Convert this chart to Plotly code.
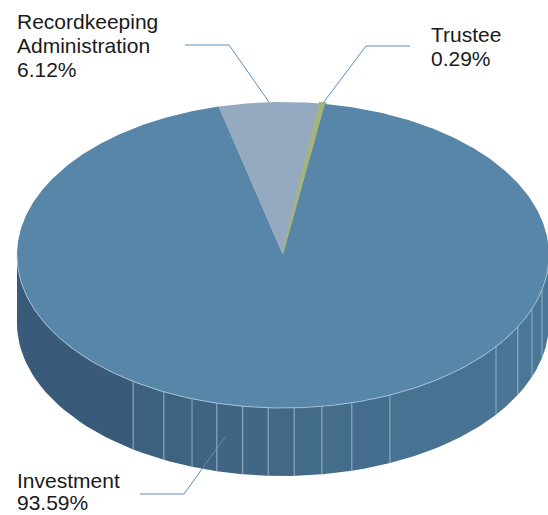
import numpy as np
import plotly.graph_objects as go

# ---- data ----
label_lines = [["Recordkeeping", "Administration"], ["Trustee"], ["Investment"]]
values = [6.12, 0.29, 93.59]
colors = ["#95aac0", "#a4b47e", "#5886a9"]

# ---- styling / geometry (pixel space) ----
W, H = 548, 515
CX, CY = 283, 255      # centre of top face
RA, RB = 266, 153      # ellipse semi-axes
DEPTH = 68             # thickness of the pie
START = 104.0          # start angle (deg, counter-clockwise from +x), slices go clockwise
SIDE_SEAMS = [235.7, 243.4, 250, 255.6, 261.3, 266.8, 272.4, 278.4, 285, 293.7,
              323.2, 332, 339.4, 346.8]
SIDE_DARK = np.array([0x38, 0x5a, 0x78])
SIDE_LIGHT = np.array([0x4c, 0x78, 0x98])
FONT = dict(family="Liberation Sans, Arial, Helvetica, sans-serif", size=21, color="#1a1a1a")
LEADER = "#5b8ec0"


def ex(t):
    return CX + RA * np.cos(np.radians(t))


def ey(t):
    return CY - RB * np.sin(np.radians(t))


fig = go.Figure()

# slice angle ranges
total = sum(values)
bounds = []
a = START
for v in values:
    sweep = 360.0 * v / total
    bounds.append((a, a - sweep))
    a -= sweep

# ---- side (front half only, belongs to the large slice) ----
edges = [180.0] + SIDE_SEAMS + [360.0]
for t0, t1 in zip(edges[:-1], edges[1:]):
    ts = np.linspace(t0, t1, 30)
    xs = np.concatenate([ex(ts), ex(ts[::-1])])
    ys = np.concatenate([ey(ts), ey(ts[::-1]) + DEPTH])
    f = (np.cos(np.radians((t0 + t1) / 2)) + 1) / 2
    c = (SIDE_DARK + (SIDE_LIGHT - SIDE_DARK) * f).astype(int)
    fig.add_trace(go.Scatter(x=xs, y=ys, fill="toself", mode="lines",
                             line=dict(width=0), fillcolor="rgb(%d,%d,%d)" % tuple(c),
                             hoverinfo="skip", showlegend=False))
for t in SIDE_SEAMS:
    fig.add_trace(go.Scatter(x=[ex(t), ex(t)], y=[ey(t), ey(t) + DEPTH], mode="lines",
                             line=dict(width=1, color="rgba(170,195,215,0.75)"),
                             hoverinfo="skip", showlegend=False))

# ---- top face ----
for i, ((t0, t1), col) in enumerate(zip(bounds, colors)):
    n = max(4, int(abs(t0 - t1) * 2))
    ts = np.linspace(t0, t1, n)
    xs = np.concatenate([[CX], ex(ts), [CX]])
    ys = np.concatenate([[CY], ey(ts), [CY]])
    lw = 3 if values[i] < 1 else 0
    fig.add_trace(go.Scatter(x=xs, y=ys, fill="toself", mode="lines",
                             line=dict(width=lw, color=col), fillcolor=col,
                             hoverinfo="skip", showlegend=False))

# rim highlight on the front edge
ts = np.linspace(180, 360, 200)
fig.add_trace(go.Scatter(x=ex(ts), y=ey(ts), mode="lines",
                         line=dict(width=1, color="rgba(165,195,220,0.9)"),
                         hoverinfo="skip", showlegend=False))

# ---- labels & leader lines ----
mids = [(t0 + t1) / 2 for t0, t1 in bounds]
pct = ["%.2f%%" % v for v in values]

m = mids[0]
fig.add_trace(go.Scatter(x=[185, 229, ex(m)], y=[45, 45, ey(m)], mode="lines",
                         line=dict(width=1, color=LEADER), hoverinfo="skip", showlegend=False))
m = mids[1]
fig.add_trace(go.Scatter(x=[410, 366, ex(m)], y=[46, 46, ey(m)], mode="lines",
                         line=dict(width=1, color=LEADER), hoverinfo="skip", showlegend=False))
fig.add_trace(go.Scatter(x=[140, 184, 225], y=[494, 494, 437], mode="lines",
                         line=dict(width=1, color=LEADER), hoverinfo="skip", showlegend=False))

text_blocks = [
    (16, 28, label_lines[0] + [pct[0]]),
    (430, 41, label_lines[1] + [pct[1]]),
    (16, 487, label_lines[2] + [pct[2]]),
]
LINE_H = 24
for x0, base0, lines in text_blocks:
    for i, s in enumerate(lines):
        fig.add_annotation(x=x0, y=base0 + i * (LINE_H - (2 if base0 > 400 else 0)) - 7,
                           text=s, showarrow=False,
                           xanchor="left", yanchor="middle", font=FONT,
                           xref="x", yref="y", borderpad=0)

fig.update_layout(
    width=W, height=H, margin=dict(l=0, r=0, t=0, b=0),
    paper_bgcolor="white", plot_bgcolor="white",
    xaxis=dict(range=[0, W], visible=False, fixedrange=True),
    yaxis=dict(range=[H, 0], visible=False, fixedrange=True),
    showlegend=False,
)
fig.write_html("out.html")
